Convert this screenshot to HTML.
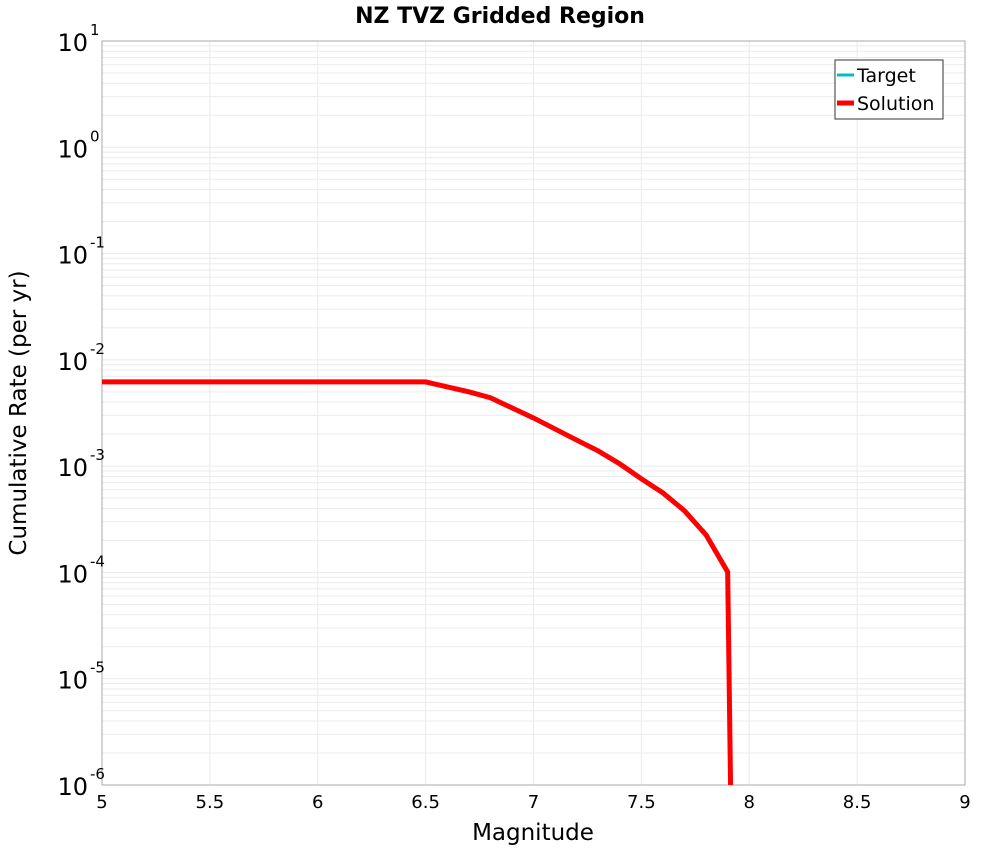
<!DOCTYPE html>
<html><head><meta charset="utf-8"><style>
body{margin:0;background:#fff;font-family:"DejaVu Sans","Liberation Sans",sans-serif;}
svg text{font-family:"DejaVu Sans","Liberation Sans",sans-serif;}
</style></head><body>
<svg id="chart" width="1000" height="850">
<text x="500" y="23" text-anchor="middle" font-size="22" font-weight="bold">NZ TVZ Gridded Region</text>
<g id="grid"></g>
<rect x="102" y="41" width="863" height="744" fill="none" stroke="#aaa"/>
<g id="ticks"></g>
<g id="series"></g>
<text x="533" y="840" text-anchor="middle" font-size="23">Magnitude</text>
<text transform="translate(26,413) rotate(-90)" text-anchor="middle" font-size="23">Cumulative Rate (per yr)</text>
<g>
<rect x="835" y="60" width="108" height="59" fill="#fff" stroke="#333"/>
<line x1="837" y1="75" x2="854" y2="75" stroke="#00bfbf" stroke-width="3"/>
<text x="857" y="82" font-size="19">Target</text>
<line x1="837" y1="103" x2="854" y2="103" stroke="#f00" stroke-width="5"/>
<text x="857" y="110" font-size="19">Solution</text>
</g>
</svg>
<script>
const xTicks=[5,5.5,6,6.5,7,7.5,8,8.5,9];
const yExps=[1,0,-1,-2,-3,-4,-5,-6];
const solMags=[5,5.5,6,6.5,6.7,6.8,7.0,7.2,7.3,7.4,7.5,7.6,7.7,7.8,7.9,7.92];
const solRates=[0.0062,0.0062,0.0062,0.0062,0.005,0.0044,0.00284,0.00176,0.00139,0.00105,0.00076,0.00056,0.00038,0.000225,0.000101,1e-7];
const L=102,R=965,T=41,B=785;
const X=m=>L+(m-5)/4*(R-L);
const Y=v=>T+(1-Math.log10(v))/7*(B-T);
const ns="http://www.w3.org/2000/svg";
function mk(t,a,p){const e=document.createElementNS(ns,t);for(const k in a)e.setAttribute(k,a[k]);p.appendChild(e);return e;}
const grid=document.getElementById('grid'),ticks=document.getElementById('ticks'),series=document.getElementById('series');
for(let d=-6;d<1;d++)for(let k=1;k<10;k++){const y=Y(k*Math.pow(10,d));
 const l=mk('line',{x1:L,x2:R,y1:y,y2:y,stroke:'#ebebeb','stroke-width':1},grid);
 
 }
xTicks.forEach(m=>{const x=X(m);
 const l=mk('line',{x1:x,x2:x,y1:T,y2:B,stroke:'#ebebeb'},grid);
 
 
 const t=mk('text',{x:x,y:808,'text-anchor':'middle','font-size':18},ticks);t.textContent=String(m);
 
 });
yExps.forEach(e=>{const y=Y(Math.pow(10,e));
 const t=mk('text',{x:88,y:y+10,'text-anchor':'end','font-size':24},ticks);t.textContent='10';
 
 
 const s=mk('text',{x:90,y:y-6,'font-size':15},ticks);s.textContent=String(e);
 
 });
mk('clipPath',{id:'clip'},series).appendChild(document.createElementNS(ns,'rect'));
const cr=series.querySelector('clipPath rect');cr.setAttribute('x',L);cr.setAttribute('y',T);cr.setAttribute('width',R-L);cr.setAttribute('height',B-T);
const p=mk('polyline',{points:solMags.map((m,i)=>X(m)+','+Y(solRates[i])).join(' '),fill:'none',stroke:'#f00','stroke-width':5,'clip-path':'url(#clip)'},series);


</script>
</body></html>
